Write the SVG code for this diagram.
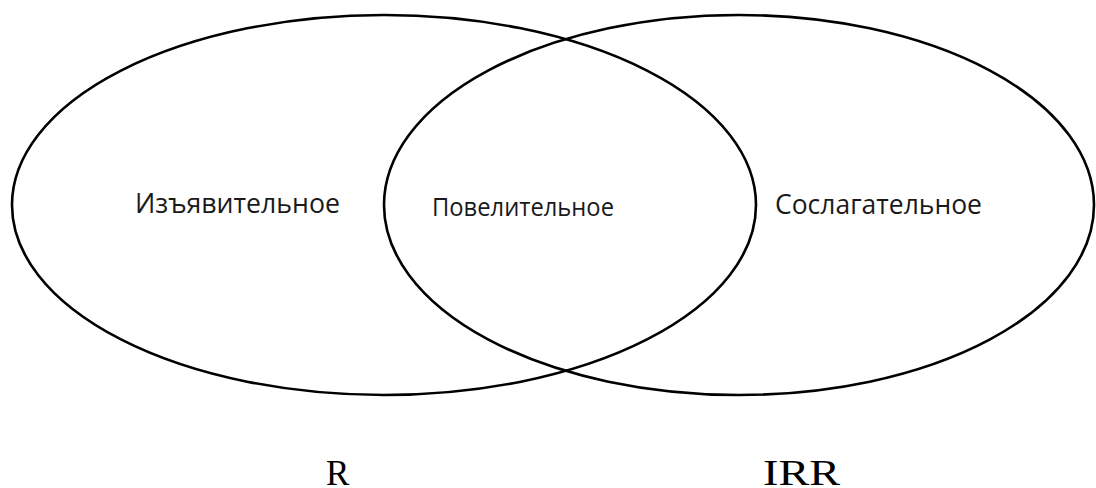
<svg xmlns="http://www.w3.org/2000/svg" width="1096" height="488" viewBox="0 0 1096 488">
<style>
.set{fill:none;stroke:#000;stroke-width:2.6}
.lbl{font-family:"Open Sans","Noto Sans","DejaVu Sans",sans-serif;fill:#1a1a1a}
.cap{font-family:"Liberation Serif","Times New Roman",serif;font-size:35px;fill:#000}
</style>
<rect width="1096" height="488" fill="#fff"/>
<g id="set-left">
<ellipse class="set" cx="384" cy="205" rx="372" ry="190"/>
<text class="lbl" x="135" y="213" font-size="27" textLength="205" lengthAdjust="spacingAndGlyphs">Изъявительное</text>
</g>
<g id="set-right">
<ellipse class="set" cx="739" cy="205" rx="355" ry="190"/>
<text class="lbl" x="775" y="214" font-size="27" textLength="207" lengthAdjust="spacingAndGlyphs">Сослагательное</text>
</g>
<g id="intersection">
<text class="lbl" x="432" y="216" font-size="25" textLength="182" lengthAdjust="spacingAndGlyphs">Повелительное</text>
</g>
<g id="captions">
<text class="cap" x="326" y="485">R</text>
<text class="cap" x="763" y="485" textLength="77" lengthAdjust="spacingAndGlyphs">IRR</text>
</g>
</svg>
